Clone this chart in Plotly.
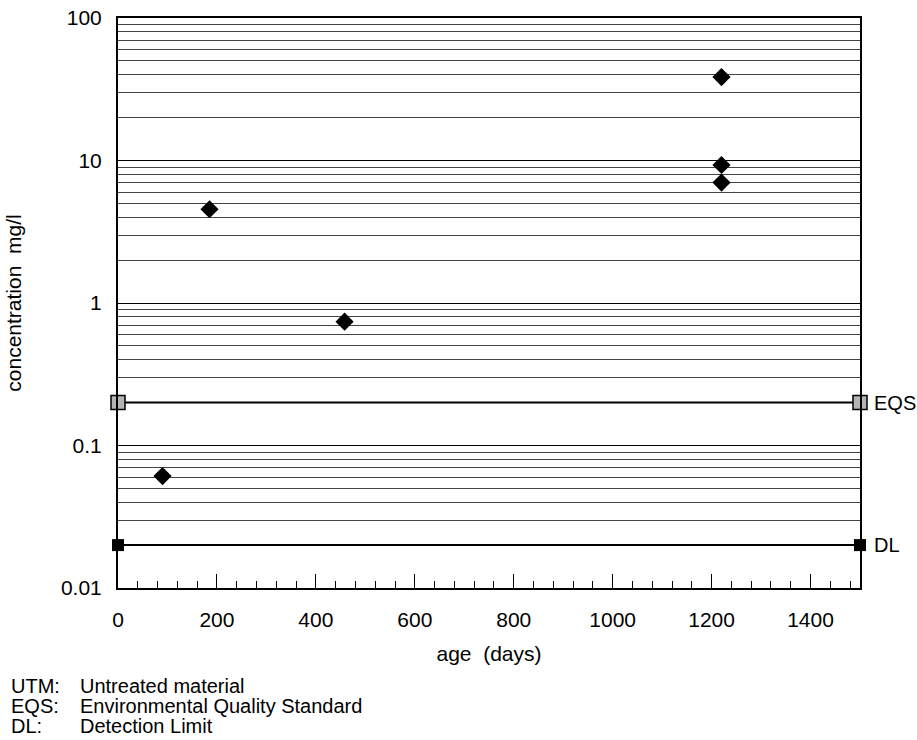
import math
import plotly.graph_objects as go

# data
age_days = [90, 185, 458, 1220, 1220, 1220]
conc_mgl = [0.061, 4.55, 0.74, 38.5, 9.3, 7.0]

ref_x = [0, 1500]
eqs_value = 0.2
dl_value = 0.02

x_ticks = [0, 200, 400, 600, 800, 1000, 1200, 1400]
y_ticks = [0.01, 0.1, 1, 10, 100]
y_ticklabels = ["0.01", "0.1", "1", "10", "100"]

notes = [("UTM:", "Untreated material"),
         ("EQS:", "Environmental Quality Standard"),
         ("DL:", "Detection Limit")]

FONT = "Liberation Sans, Arial, sans-serif"
FS = 21

# plot-area geometry in pixels (for placing footnotes in paper units)
L, R, T, B = 118, 57, 18, 152
PW, PH = 917 - L - R, 740 - T - B

fig = go.Figure()

fig.add_trace(go.Scatter(
    x=ref_x, y=[eqs_value, eqs_value], mode="lines+markers",
    line=dict(color="black", width=2),
    marker=dict(symbol="square", size=14, color="#b4b4b4",
                line=dict(color="black", width=1.5)),
    cliponaxis=False, showlegend=False, hoverinfo="skip"))

fig.add_trace(go.Scatter(
    x=ref_x, y=[dl_value, dl_value], mode="lines+markers",
    line=dict(color="black", width=2),
    marker=dict(symbol="square", size=12, color="black"),
    cliponaxis=False, showlegend=False, hoverinfo="skip"))

fig.add_trace(go.Scatter(
    x=age_days, y=conc_mgl, mode="markers",
    marker=dict(symbol="diamond", size=14, color="black"),
    showlegend=False))

fig.add_annotation(x=ref_x[1], y=math.log10(eqs_value),
                   text="EQS", showarrow=False, xanchor="left", xshift=12,
                   font=dict(size=20, color="black", family=FONT))
fig.add_annotation(x=ref_x[1], y=math.log10(dl_value),
                   text="DL", showarrow=False, xanchor="left", xshift=12,
                   font=dict(size=20, color="black", family=FONT))

for i, (abbr, desc) in enumerate(notes):
    ypos = 686 + i * 20
    yp = (740 - B - ypos) / PH
    fig.add_annotation(xref="paper", yref="paper", x=(10 - L) / PW, y=yp,
                       text=abbr, showarrow=False, xanchor="left", yanchor="middle",
                       borderpad=0,
                       font=dict(size=20, color="black", family=FONT))
    fig.add_annotation(xref="paper", yref="paper", x=(79 - L) / PW, y=yp,
                       text=desc, showarrow=False, xanchor="left", yanchor="middle",
                       borderpad=0,
                       font=dict(size=20, color="black", family=FONT))

fig.update_layout(
    width=917, height=740,
    margin=dict(l=L, r=R, t=T, b=B),
    paper_bgcolor="white", plot_bgcolor="white",
    font=dict(family=FONT, size=FS, color="black"),
    xaxis=dict(
        range=[0, 1500], tickvals=x_ticks, showgrid=False, zeroline=False,
        showline=True, linecolor="black", linewidth=2, mirror=True,
        ticks="inside", ticklen=14, tickwidth=1, tickcolor="black",
        minor=dict(dtick=40, tick0=0, ticks="inside", ticklen=7, tickwidth=1,
                   tickcolor="black", showgrid=False),
        title=dict(text="age  (days)", font=dict(size=FS), standoff=16),
        tickfont=dict(size=FS), ticklabelstandoff=12, automargin=False,
    ),
    yaxis=dict(
        type="log", range=[-2, 2], tickvals=y_ticks, ticktext=y_ticklabels,
        showgrid=True, gridcolor="black", gridwidth=1.2,
        zeroline=False, showline=True, linecolor="black", linewidth=2, mirror=True,
        ticks="", ticklabelstandoff=10, automargin=False,
        minor=dict(dtick="D1", showgrid=True, gridcolor="#444444", gridwidth=1.2),
        title=dict(text="concentration  mg/l", font=dict(size=FS), standoff=34),
        tickfont=dict(size=FS),
    ),
)

fig.write_html("out.html")
